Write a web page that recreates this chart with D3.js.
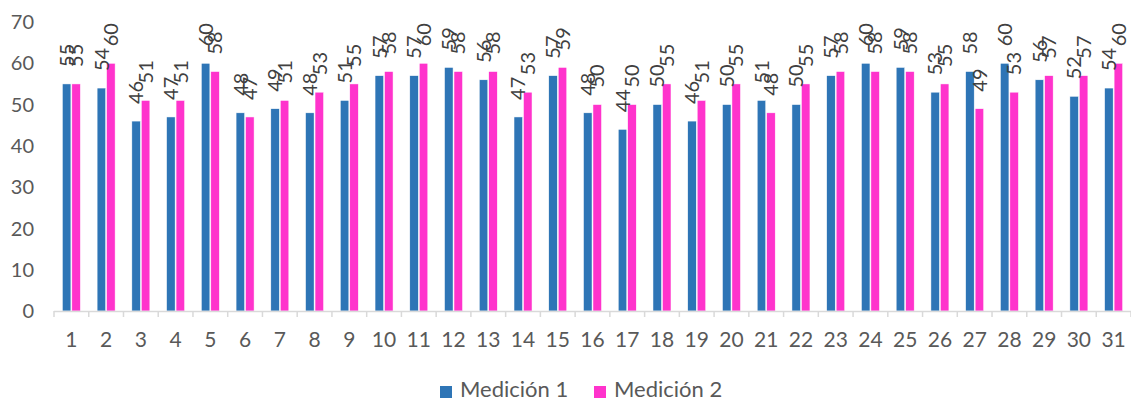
<!DOCTYPE html>
<html>
<head>
<meta charset="utf-8">
<script src="https://cdn.jsdelivr.net/npm/d3@7"></script>
<style>
  html, body { margin: 0; padding: 0; background: #ffffff; }
  svg { display: block; }
  text { font-family: Lato, "Open Sans", sans-serif; fill: #595959; }
</style>
</head>
<body>
<svg id="chart" width="1131" height="401"></svg>
<script>
const categories = ["1","2","3","4","5","6","7","8","9","10","11","12","13","14","15","16","17","18","19","20","21","22","23","24","25","26","27","28","29","30","31"];
const medicion1 = [55,54,46,47,60,48,49,48,51,57,57,59,56,47,57,48,44,50,46,50,51,50,57,60,59,53,58,60,56,52,54];
const medicion2 = [55,60,51,51,58,47,51,53,55,58,60,58,58,53,59,50,50,55,51,55,48,55,58,58,58,55,49,53,57,57,60];
const seriesNames = ["Medición 1", "Medición 2"];
const seriesColors = ["#2E75B6", "#FF33CC"];
const yTicks = [0,10,20,30,40,50,60,70];

(function () {
const svg = d3.select("#chart");
const mLeft = 54, mRight = 1131, mTop = 22, mBottom = 311;

const x = d3.scaleBand().domain(categories).range([mLeft, mRight]).paddingInner(0).paddingOuter(0);
const y = d3.scaleLinear().domain([0, 70]).range([mBottom, mTop]);
const xs = d3.scaleBand().domain([0, 1]).range([-9, 9]).paddingInner(0.1);

const series = [medicion1, medicion2];

// bars
series.forEach((vals, si) => {
  svg.append("g").selectAll("rect").data(vals).join("rect")
    .attr("x", (d, i) => x(categories[i]) + x.bandwidth() / 2 + xs(si))
    .attr("y", d => y(d))
    .attr("width", xs.bandwidth())
    .attr("height", d => y(0) - y(d))
    .attr("fill", seriesColors[si])
    .attr("stroke", "#ffffff")
    .attr("stroke-width", 0.5);
});

// data labels (rotated)
series.forEach((vals, si) => {
  svg.append("g").selectAll("text").data(vals).join("text")
    .attr("transform", (d, i) => {
      const cx = x(categories[i]) + x.bandwidth() / 2 + xs(si) + xs.bandwidth() / 2;
      return `translate(${cx},${y(d) - 17}) rotate(-90)`;
    })
    .attr("dy", "0.36em")
    .attr("text-anchor", "start")
    .attr("font-size", 20)
    .style("fill", "#404040")
    .text(d => d);
});

// x axis line and ticks
const axisG = svg.append("g");
axisG.append("line")
  .attr("x1", mLeft).attr("x2", mRight)
  .attr("y1", mBottom + 0.5).attr("y2", mBottom + 0.5)
  .attr("stroke", "#d9d9d9").attr("stroke-width", 1.5);
const tickPos = categories.map(c => x(c)).concat([x(categories[categories.length - 1]) + x.bandwidth()]);
axisG.selectAll("line.tick").data(tickPos).join("line")
  .attr("class", "tick")
  .attr("x1", d => d).attr("x2", d => d)
  .attr("y1", mBottom).attr("y2", mBottom + 6)
  .attr("stroke", "#d9d9d9").attr("stroke-width", 1.5);

// x labels
svg.append("g").selectAll("text").data(categories).join("text")
  .attr("x", d => x(d) + x.bandwidth() / 2)
  .attr("y", 347)
  .attr("text-anchor", "middle")
  .attr("font-size", 21)
  .text(d => d);

// y labels
svg.append("g").selectAll("text").data(yTicks).join("text")
  .attr("x", 34)
  .attr("y", d => y(d))
  .attr("dy", "0.36em")
  .attr("text-anchor", "end")
  .attr("font-size", 20)
  .text(d => d);

// legend
const legendX = [440, 594];
const lg = svg.append("g");
seriesNames.forEach((n, i) => {
  lg.append("rect").attr("x", legendX[i]).attr("y", 386).attr("width", 12).attr("height", 12).attr("fill", seriesColors[i]);
  lg.append("text").attr("x", legendX[i] + 20).attr("y", 397).attr("font-size", 22).text(n);
});
})();
</script>
</body>
</html>
